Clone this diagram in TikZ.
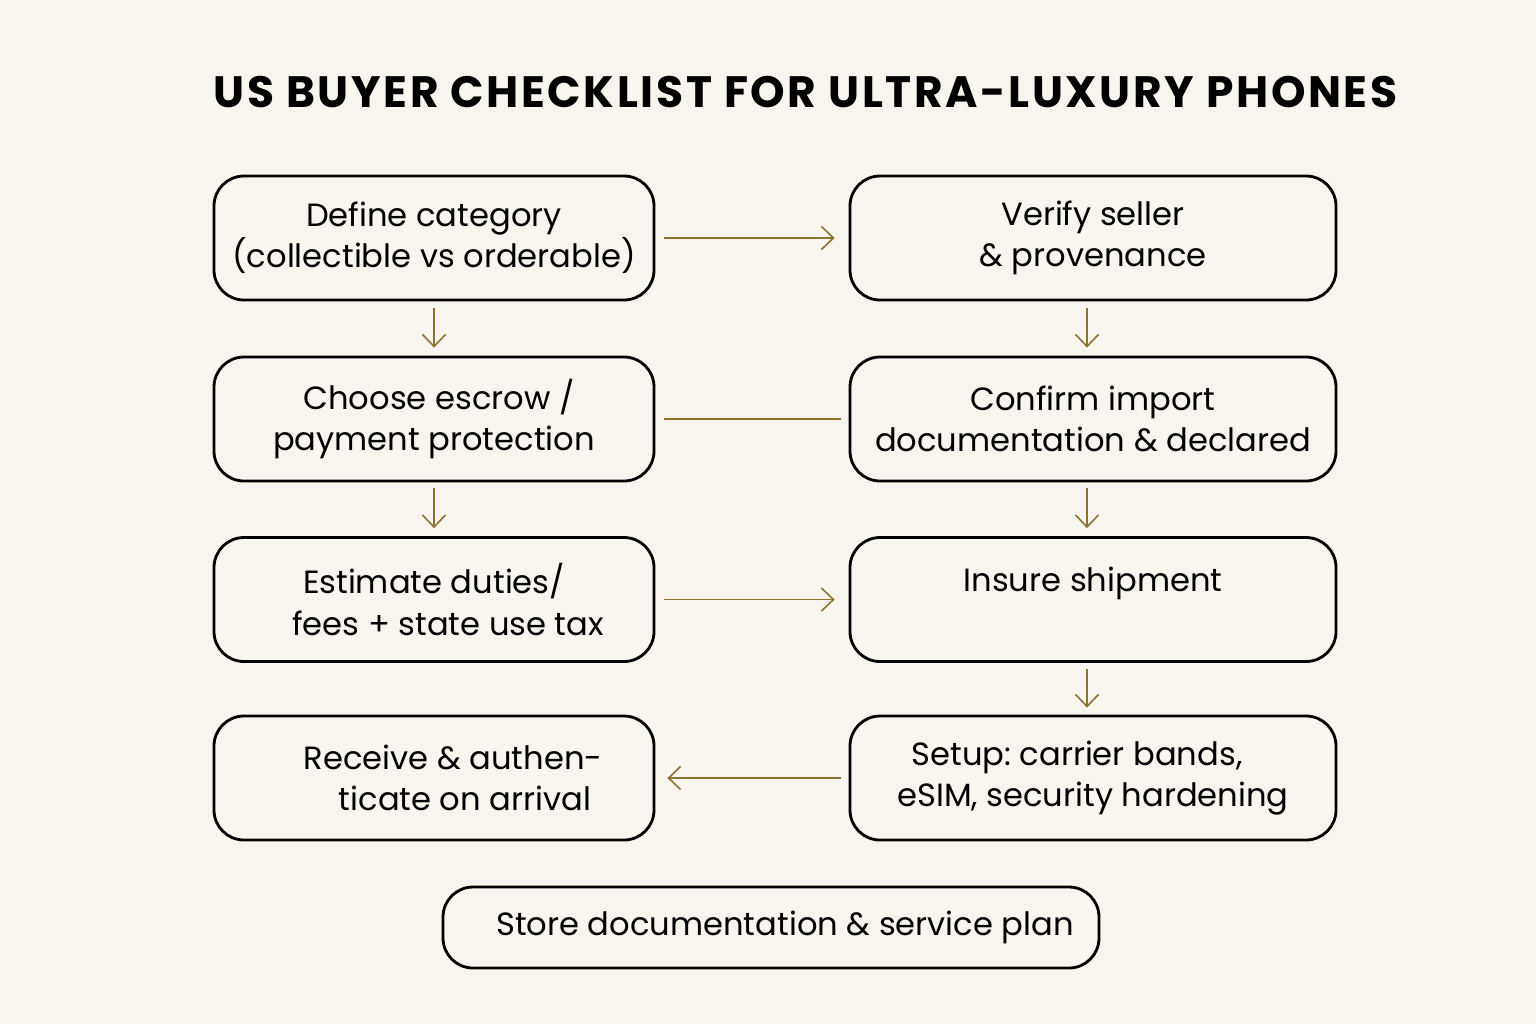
\documentclass[tikz,border=0pt]{standalone}
\usepackage{fontspec}
\setmainfont{Poppins}
\newfontfamily\headfont[LetterSpace=6]{Poppins}
\usepackage{xcolor}
\usepackage{tikz}
\usetikzlibrary{arrows.meta}
\definecolor{paper}{HTML}{F8F4EE}
\definecolor{gold}{HTML}{8C7430}
\frenchspacing
\tikzset{
	stepbox/.style={rectangle, draw=black, line width=1.6pt, rounded corners=0.6cm, minimum width=8.8cm, minimum height=2.48cm, align=center, font=\fontsize{18.3}{23.4}\selectfont, inner sep=0pt},
	widebox/.style={stepbox, minimum width=9.72cm},
	link/.style={draw=gold, line width=0.9pt, -{Straight Barb[length=2.4mm, width=4.6mm, line width=0.9pt]}}
}

\begin{document}
\begin{tikzpicture}
		\useasboundingbox[fill=paper] (0,0) rectangle (30.72,-20.48);
		\node[font=\headfont\bfseries\fontsize{25}{30}\selectfont] at (16.11,-1.84) (title) {US BUYER CHECKLIST FOR ULTRA-LUXURY PHONES};
		%Boxes
		\node[stepbox] at (8.68,-4.76) (define)    {Define category\\(collectible vs orderable)};
		\node[widebox] at (21.86,-4.76) (verify)    {Verify seller\\\& provenance};
		\node[stepbox] at (8.68,-8.38) (escrow)    {\hspace*{0.2cm}Choose escrow /\\payment protection};
		\node[widebox] at (21.86,-8.38) (import)    {Confirm import\\documentation \& declared};
		\node[stepbox] at (8.68,-11.99) (duties)    {Estimate duties/\\\hspace*{0.56cm}fees + state use tax};
		\node[widebox] at (21.86,-11.99) (insure)    {Insure shipment\\\mbox{}};
		\node[stepbox] at (8.68,-15.56) (receive)    {\hspace*{0.76cm}Receive \& authen-\\\hspace*{1.24cm}ticate on arrival};
		\node[widebox] at (21.86,-15.56) (setup)    {Setup: carrier bands,\hspace*{0.64cm}\\eSIM, security hardening};
		\node[stepbox, minimum width=13.12cm, minimum height=1.62cm] at (15.42,-18.55) (store)    {\hspace*{0.56cm}Store documentation \& service plan};
		
		%Lines
		\draw[link, shorten <=0.18cm, shorten >=0.28cm] (define) -- (verify);
		\draw[link, shorten <=0.14cm, shorten >=0.16cm] (define) -- (escrow);
		\draw[link, shorten <=0.14cm, shorten >=0.16cm] ([xshift=-0.12cm]verify.south) -- ([xshift=-0.12cm]import.north);
		\draw[draw=gold, line width=0.9pt, shorten <=0.18cm, shorten >=0.16cm] (escrow) -- (import);
		\draw[link, shorten <=0.12cm, shorten >=0.16cm] (escrow) -- (duties);
		\draw[link, shorten <=0.12cm, shorten >=0.16cm] ([xshift=-0.12cm]import.south) -- ([xshift=-0.12cm]insure.north);
		\draw[link, shorten <=0.18cm, shorten >=0.28cm] (duties) -- (insure);
		\draw[link, shorten <=0.12cm, shorten >=0.14cm] ([xshift=-0.12cm]insure.south) -- ([xshift=-0.12cm]setup.north);
		\draw[link, shorten <=0.16cm, shorten >=0.24cm] (setup) -- (receive);
		
	\end{tikzpicture}
\end{document}
